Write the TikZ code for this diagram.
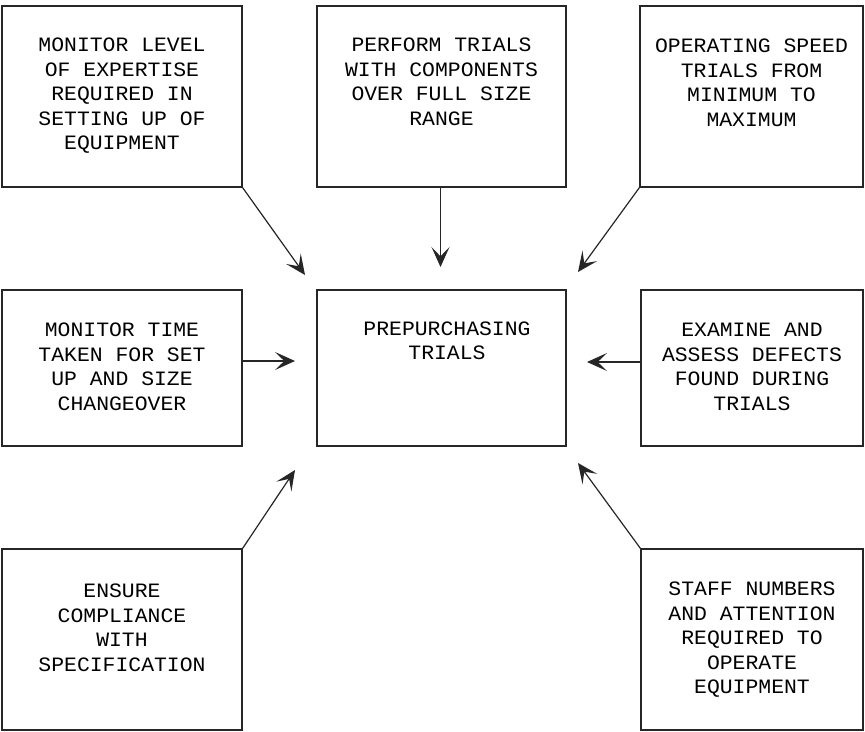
\documentclass[tikz,border=0pt]{standalone}
\usepackage{fontspec}
\setmonofont[FakeStretch=1.05]{Liberation Mono}
\usetikzlibrary{arrows.meta}
\begin{document}
\begin{tikzpicture}[x=0.75pt,y=-0.75pt,
  box/.style={draw=black!85,line width=0.9pt,rectangle,inner sep=0pt},
  txt/.style={align=center,inner sep=0pt,font=\ttfamily\fontsize{15.3}{18.4}\selectfont},
  feed/.style={draw=black!85,line width=0.9pt,
    -{Stealth[length=15pt,width=13.5pt,inset=7pt]}}]
\useasboundingbox (0,0) rectangle (865,732);

% boxes
\node[box,minimum width=180pt,minimum height=135.75pt] (tl) at (122,96.5) {};
\node[box,minimum width=186.75pt,minimum height=135.75pt] (tm) at (441.5,96.5) {};
\node[box,minimum width=167.25pt,minimum height=135.75pt] (tr) at (751.5,96.5) {};
\node[box,minimum width=180pt,minimum height=117pt] (ml) at (122,368) {};
\node[box,minimum width=186.75pt,minimum height=117pt] (c) at (441.5,368) {};
\node[box,minimum width=166.5pt,minimum height=117pt] (mr) at (752,368) {};
\node[box,minimum width=180pt,minimum height=135.75pt] (bl) at (122,639.5) {};
\node[box,minimum width=166.5pt,minimum height=135.75pt] (br) at (752,639.5) {};

% texts
\node[txt] (tl-t) at (122,96) {MONITOR LEVEL\\OF EXPERTISE\\REQUIRED IN\\SETTING UP OF\\EQUIPMENT};
\node[txt] (tm-t) at (441.5,82) {PERFORM TRIALS\\WITH COMPONENTS\\OVER FULL SIZE\\RANGE};
\node[txt] (tr-t) at (751.5,83) {OPERATING SPEED\\TRIALS FROM\\MINIMUM TO\\MAXIMUM};
\node[txt] (ml-t) at (122,367) {MONITOR TIME\\TAKEN FOR SET\\UP AND SIZE\\CHANGEOVER};
\node[txt] (c-t) at (447,341) {PREPURCHASING\\TRIALS};
\node[txt] (mr-t) at (752,367) {EXAMINE AND\\ASSESS DEFECTS\\FOUND DURING\\TRIALS};
\node[txt] (bl-t) at (122,628) {ENSURE\\COMPLIANCE\\WITH\\SPECIFICATION};
\node[txt] (br-t) at (752,640) {STAFF NUMBERS\\AND ATTENTION\\REQUIRED TO\\OPERATE\\EQUIPMENT};

% arrow ends in front of the central box
\coordinate (e-tl) at (305,275);
\coordinate (e-tm) at (440.5,267);
\coordinate (e-tr) at (578,272);
\coordinate (e-ml) at (295,361);
\coordinate (e-mr) at (587,362);
\coordinate (e-bl) at (295,470);
\coordinate (e-br) at (578,463);

% feeds into the trials
\draw[feed] (tl.south east) -- (e-tl);
\draw[feed] (tm.south -| e-tm) -- (e-tm);
\draw[feed] (tr.south west) -- (e-tr);
\draw[feed] (ml.east |- e-ml) -- (e-ml);
\draw[feed] (mr.west |- e-mr) -- (e-mr);
\draw[feed] (bl.north east) -- (e-bl);
\draw[feed] (br.north west) -- (e-br);
\end{tikzpicture}
\end{document}
